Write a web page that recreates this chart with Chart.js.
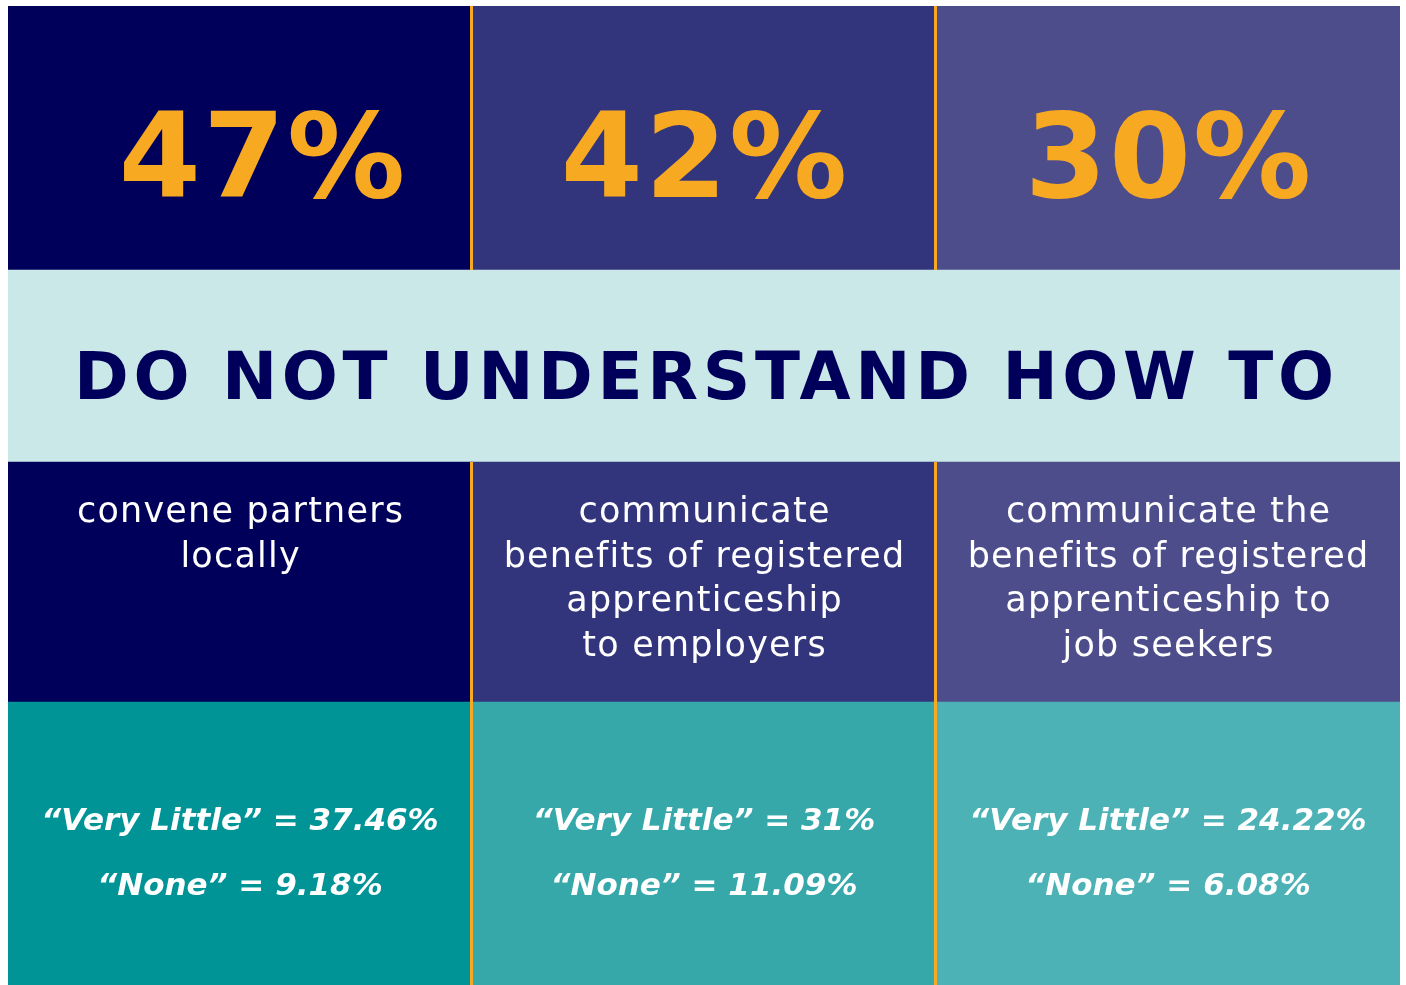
<!DOCTYPE html>
<html>
<head>
<meta charset="utf-8">
<script src="https://cdn.jsdelivr.net/npm/chart.js@4.4.1/dist/chart.umd.min.js"></script>
<style>
	body { margin: 0; background: #ffffff; }
	#wrap { width: 1406px; height: 985px; }
</style>
</head>
<body>
<div id="wrap"><canvas id="grid"></canvas></div>
<script>
// data
let columns = ["col1", "col2", "col3"];
let headline = [47, 42, 30];
let heading = "DO NOT UNDERSTAND HOW TO";
let tasks = [
	["convene partners", "locally"],
	["communicate", "benefits of registered", "apprenticeship", "to employers"],
	["communicate the", "benefits of registered", "apprenticeship to", "job seekers"]
];
let veryLittle = [37.46, 31, 24.22];
let none = [9.18, 11.09, 6.08];

// layout (pixels of the grid rows, bottom row first)
let rowHeights = [283, 240, 192, 264];
let topColors = ["#00005a", "#33357c", "#4e4d8b"];
let bottomColors = ["#019497", "#36a8aa", "#4cb2b6"];
let bandColor = "#cbe8e8";
let orange = "#f8a922";
let navy = "#00005a";
let fontName = "'DejaVu Sans', sans-serif";

function row(h) {
	return columns.map(function () { return h; });
}

let cellText = {
	id: "cellText",
	afterDatasetsDraw: function (chart) {
		let ctx = chart.ctx;
		let x = chart.scales.x;
		let y = chart.scales.y;
		let area = chart.chartArea;

		let b1 = y.getPixelForValue(rowHeights[0]);
		let b2 = y.getPixelForValue(rowHeights[0] + rowHeights[1]);
		let b3 = y.getPixelForValue(rowHeights[0] + rowHeights[1] + rowHeights[2]);

		// orange column dividers, not across the band
		ctx.save();
		ctx.fillStyle = orange;
		for (let i = 1; i < columns.length; i++) {
			let xd = Math.round((x.getPixelForValue(i - 1) + x.getPixelForValue(i)) / 2);
			ctx.fillRect(xd - 2, area.top, 3, b3 - area.top);
			ctx.fillRect(xd - 2, b2, 3, area.bottom - b2);
		}

		ctx.textAlign = "center";
		ctx.textBaseline = "alphabetic";

		for (let i = 0; i < columns.length; i++) {
			let cx = x.getPixelForValue(i);

			ctx.fillStyle = orange;
			ctx.font = "bold 118px " + fontName;
			ctx.letterSpacing = "2px";
			ctx.fillText(headline[i] + "%", cx + (i == 0 ? 22 : 0) + 1, area.top + 191);

			ctx.fillStyle = "#ffffff";
			ctx.font = "35px " + fontName;
			ctx.letterSpacing = "1.2px";
			tasks[i].forEach(function (line, k) {
				ctx.fillText(line, cx + 0.6, b2 + 60 + k * 44.7);
			});

			ctx.font = "italic bold 31px " + fontName;
			ctx.letterSpacing = "0px";
			ctx.fillText("\u201cVery Little\u201d = " + veryLittle[i] + "%", cx, b1 + 128);
			ctx.fillText("\u201cNone\u201d = " + none[i] + "%", cx, b1 + 193);
		}

		// band heading
		ctx.fillStyle = navy;
		ctx.font = "bold 66px " + fontName;
		ctx.letterSpacing = "0px";
		let w = ctx.measureText(heading).width;
		let sp = (1260 - w) / (heading.length - 1);
		ctx.letterSpacing = sp + "px";
		ctx.fillText(heading, (area.left + area.right) / 2 + sp / 2, b3 + 129);
		ctx.restore();
	}
};

let chart = new Chart(document.getElementById("grid"), {
	type: "bar",
	data: {
		labels: columns,
		datasets: [
			{ label: "split", data: row(rowHeights[0]), backgroundColor: bottomColors },
			{ label: "task", data: row(rowHeights[1]), backgroundColor: topColors },
			{ label: "band", data: row(rowHeights[2]), backgroundColor: bandColor },
			{ label: "headline", data: row(rowHeights[3]), backgroundColor: topColors }
		]
	},
	options: {
		responsive: true,
		maintainAspectRatio: false,
		animation: false,
		devicePixelRatio: 1,
		layout: { padding: { left: 8, right: 6, top: 6, bottom: 0 } },
		datasets: {
			bar: { barPercentage: 1, categoryPercentage: 1, borderWidth: 0 }
		},
		scales: {
			x: { display: false, stacked: true },
			y: {
				display: false,
				stacked: true,
				min: 0,
				max: rowHeights[0] + rowHeights[1] + rowHeights[2] + rowHeights[3]
			}
		},
		plugins: {
			legend: { display: false },
			tooltip: { enabled: false },
			title: { display: false }
		}
	},
	plugins: [cellText]
});
</script>
</body>
</html>
